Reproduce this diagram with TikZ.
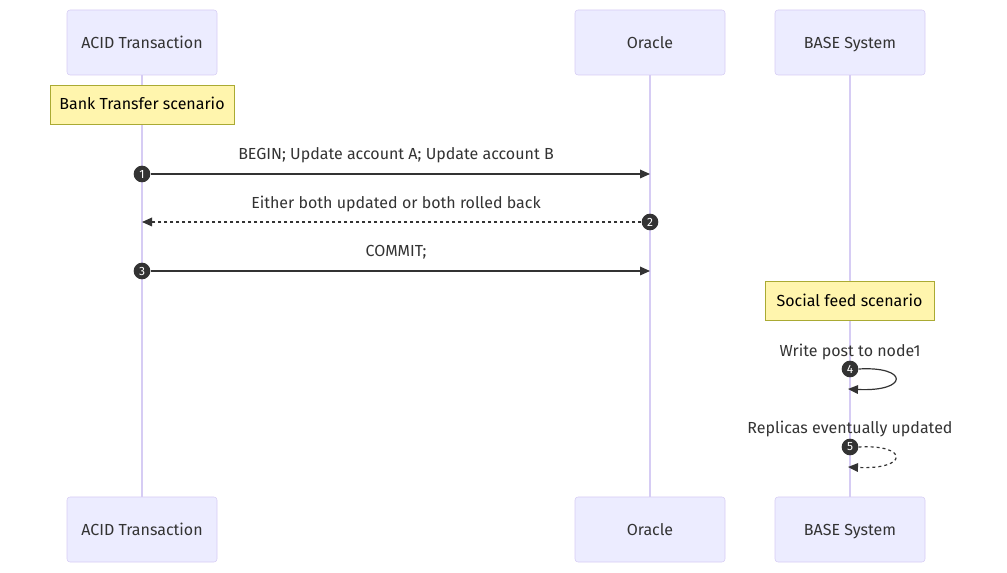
\documentclass[tikz,border=0pt]{standalone}
\usepackage{fontspec}
\setmainfont{Fira Sans}
\usetikzlibrary{arrows.meta}
\definecolor{actorfill}{HTML}{ECECFF}
\definecolor{actorline}{HTML}{D6CCF4}
\definecolor{notefill}{HTML}{FFF5AD}
\definecolor{noteline}{HTML}{AAAA33}
\definecolor{ink}{HTML}{333333}
\begin{document}
\begin{tikzpicture}[x=0.75pt,y=-0.75pt,
            actor/.style={draw=actorline,fill=actorfill,rounded corners=2.25pt,minimum width=112.5pt,minimum height=48.75pt,text=ink,text height=11.6pt,text depth=2.6pt,font=\fontsize{12}{14}\selectfont},
            note/.style={draw=noteline,fill=notefill,minimum height=29pt,text=black,text height=10.6pt,text depth=2.6pt,font=\fontsize{12}{14}\selectfont},
            num/.style={circle,fill=ink,inner sep=0pt,minimum size=12.5pt,text=white,font=\fontsize{9}{10}\selectfont},
            label/.style={text=ink,text height=10.6pt,text depth=2.6pt,font=\fontsize{12}{14}\selectfont},
            lifeline/.style={draw=actorline,line width=1.1pt},
            msg/.style={draw=ink,line width=0.9pt,-{Triangle[length=7.5pt,width=6.5pt]}},
            reply/.style={msg,dash pattern=on 2.25pt off 2.25pt},
            ]
            \useasboundingbox (0,0) rectangle (1007,573);

            % actors top and bottom
            \node[actor] (acid) at (142,42.5) {ACID Transaction};
            \node[actor] (oracle) at (650,42.5) {Oracle};
            \node[actor] (base) at (850,42.5) {BASE System};
            \node[actor] (acid b) at (142,529.5) {ACID Transaction};
            \node[actor] (oracle b) at (650,529.5) {Oracle};
            \node[actor] (base b) at (850,529.5) {BASE System};

            \draw[lifeline] (acid) -- (acid b);
            \draw[lifeline] (oracle) -- (oracle b);
            \draw[lifeline] (base) -- (base b);

            % notes
            \node[note, minimum width=138pt] (bank) at (142,104.5) {Bank Transfer scenario};
            \node[note, minimum width=126.75pt] (social) at (849.5,301) {Social feed scenario};

            % message labels
            \node[label] (l1) at (396,154) {BEGIN; Update account A; Update account B};
            \node[label] (l2) at (396,203) {Either both updated or both rolled back};
            \node[label] (l3) at (396,251) {COMMIT;};
            \node[label] (l4) at (850,351) {Write post to node1};
            \node[label] (l5) at (850,428) {Replicas eventually updated};

            % sequence numbers
            \node[num] (n1) at (142,174) {1};
            \node[num] (n2) at (650,222) {2};
            \node[num] (n3) at (142,271) {3};
            \node[num] (n4) at (850,369) {4};
            \node[num] (n5) at (850,447) {5};

            \coordinate (m1) at (650,174);
            \coordinate (m2) at (142,222);
            \coordinate (m3) at (650,271);
            \coordinate (m4) at (848,389);
            \coordinate (m5) at (848,467);

            \draw[msg] (n1) -- (m1);
            \draw[reply] (n2) -- (m2);
            \draw[msg] (n3) -- (m3);
            \draw[msg] (n4.east) .. controls (909,366) and (909,392) .. (m4);
            \draw[reply] (n5.east) .. controls (909,444) and (909,470) .. (m5);
        \end{tikzpicture}
\end{document}
